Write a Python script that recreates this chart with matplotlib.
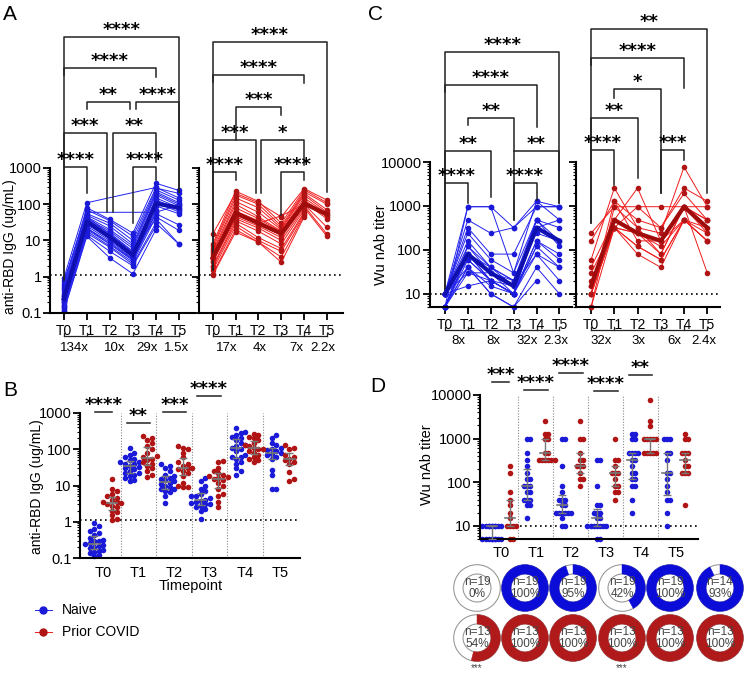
import numpy as np
import matplotlib
matplotlib.use('Agg')
import matplotlib.pyplot as plt
from matplotlib.lines import Line2D
from matplotlib.patches import Circle, Wedge
from matplotlib.transforms import blended_transform_factory
from matplotlib.ticker import LogLocator, NullFormatter

plt.rcParams['font.family'] = ['Liberation Sans', 'DejaVu Sans']

nan = np.nan
timepoints = ['T0', 'T1', 'T2', 'T3', 'T4', 'T5']

# anti-RBD IgG (ug/mL), one row per subject, columns T0..T5
rbd_naive = np.array([
    [0.90, 110, nan, nan, 290, 150],
    [0.75, 60, nan, nan, 60, 95],
    [0.62, 80, 38, 16, 380, 240],
    [0.55, 70, 35, 13, 280, 200],
    [0.48, 55, 30, 10, 250, 130],
    [0.42, 50, 25, 8, 220, 110],
    [0.36, 45, 20, 7, 200, 100],
    [0.31, 40, 18, 6, 180, 90],
    [0.29, 38, 16, 5, 150, 80],
    [0.26, 35, 14, 4.5, 130, 75],
    [0.24, 32, 13, 4.0, 120, 70],
    [0.22, 30, 12, 3.8, 110, 62],
    [0.20, 28, 11, 3.5, 100, nan],
    [0.19, 25, 10, 3.2, 90, 55],
    [0.17, 22, 9, 3.0, 70, nan],
    [0.16, 20, 8, 2.8, 55, 27],
    [0.15, 18, 7, 2.5, 45, 19],
    [0.14, 16, 6.5, 2.2, 30, 8],
    [0.12, 14, 5, 2.0, 25, nan],
    [0.11, 13, 3.3, 1.2, 20, nan],
    [0.23, 22, 8, 3.0, 60, nan],
    [0.30, 45, 15, 5.0, 40, 8],
])
rbd_prior = np.array([
    [15, 200, 110, 45, 270, 130],
    [8, 230, 120, 30, 250, 110],
    [7, 180, 100, 25, 220, 100],
    [6, 150, 80, 22, 200, 70],
    [5, 120, 60, 20, 180, 60],
    [4.5, 100, 45, 18, 150, 55],
    [4, 80, 40, 17, 130, 50],
    [3.5, 65, 35, 16, 120, 45],
    [3.2, 55, 30, 15, 110, 40],
    [3, 50, 28, 14, 100, 23],
    [2.8, 45, 25, 12, 90, 15],
    [2.5, 40, 22, 10, 80, 13],
    [2, 35, 18, 8, 70, nan],
    [1.8, 30, 12, 6, 60, nan],
    [1.5, 25, 10, 5, 55, nan],
    [1.2, 20, 9, 3.5, 50, nan],
    [1.1, 17, 9, 2.5, 45, nan],
    [3.4, 60, 30, 48, 100, nan],
])
rbd_fold_naive = ['134x', '10x', '29x', '1.5x']
rbd_fold_prior = ['17x', '4x', '7x', '2.2x']

# Wu neutralizing antibody titer, one row per subject, columns T0..T5
nab_naive = np.array([
    [10, 960, 960, 320, 960, 960],
    [10, 480, 240, 320, 1280, 480],
    [10, 320, 80, 80, 960, 960],
    [10, 240, 60, 30, 480, 320],
    [10, 160, 40, 20, 480, 160],
    [10, 120, 40, 15, 480, 120],
    [5, 120, 30, 10, 320, 480],
    [5, 80, 40, 20, 240, 160],
    [5, 80, 20, 10, 160, 80],
    [5, 80, 20, 10, 160, 60],
    [10, 60, 20, 10, 120, 40],
    [5, 60, 20, 15, 80, 40],
    [5, 40, 15, 10, 80, 20],
    [5, 40, 10, 5, 40, 10],
    [10, 40, 10, 5, 20, nan],
    [5, 30, 20, 10, 120, nan],
    [10, 30, 30, 20, 320, nan],
    [10, 15, 20, 10, 480, nan],
    [5, 960, 960, 30, 1280, 960],
])
nab_prior = np.array([
    [240, 960, 960, 960, 960, 960],
    [160, 1280, 480, 320, 2560, 1280],
    [60, 2560, 320, 240, 7680, 960],
    [40, 480, 2560, 160, 960, 480],
    [30, 320, 960, 320, 1920, 480],
    [20, 320, 240, 120, 480, 320],
    [15, 480, 240, 80, 960, 240],
    [10, 320, 120, 60, 480, 160],
    [10, 320, 80, 40, 480, 240],
    [10, 1280, 160, 160, 960, 480],
    [10, 320, 240, 160, 480, 160],
    [5, 960, 320, 80, 960, 30],
    [5, 320, 120, 60, 480, 160],
])
nab_fold_naive = ['8x', '8x', '32x', '2.3x']
nab_fold_prior = ['32x', '3x', '6x', '2.4x']

# share of subjects with titer above cut-off
pos_n_naive = [19, 19, 19, 19, 19, 14]
pos_pct_naive = [0, 100, 95, 42, 100, 93]
pos_n_prior = [13, 13, 13, 13, 13, 13]
pos_pct_prior = [54, 100, 100, 100, 100, 100]

BLUE_L, BLUE_M, BLUE_D = '#2222ee', '#1a1ad8', '#1010b0'
RED_L, RED_M, RED_D = '#f01c1c', '#b01414', '#a00c0c'

W, H = 750, 683
fig = plt.figure(figsize=(7.5, 6.83), dpi=100)


def py(y):
    return 1 - y / H


def add_ax(x0, y_top, x1, y_bot):
    return fig.add_axes([x0 / W, py(y_bot), (x1 - x0) / W, (y_bot - y_top) / H])


def fmt(v):
    return '0.1' if v < 1 else str(int(v))


def style_log(ax, ylim, yticks, labels=True):
    ax.set_yscale('log')
    ax.set_ylim(*ylim)
    ax.set_yticks(yticks)
    ax.set_yticklabels([fmt(v) for v in yticks] if labels else [])
    ax.yaxis.set_minor_locator(LogLocator(base=10, subs=np.arange(2, 10)))
    ax.yaxis.set_minor_formatter(NullFormatter())
    for s in ['top', 'right']:
        ax.spines[s].set_visible(False)
    for s in ['left', 'bottom']:
        ax.spines[s].set_linewidth(1.5)
    ax.tick_params(axis='y', which='major', length=5, width=1.3, labelsize=10.5, pad=1)
    ax.tick_params(axis='y', which='minor', length=2.5, width=0.8)


def bracket(ax, x1, x2, yl, b1, b2, stars, fs=13):
    tr = blended_transform_factory(ax.transData, fig.transFigure)
    ax.plot([x1, x1, x2, x2], [py(b1), py(yl), py(yl), py(b2)], color='#222222',
            lw=1.1, transform=tr, clip_on=False)
    ax.text((x1 + x2) / 2, py(yl - 2), stars, transform=tr, ha='center', va='baseline',
            fontsize=fs, fontweight='bold', family='DejaVu Sans')


def lines_panel(ax, data, line_c, mark_c, med_c):
    x = np.arange(6)
    for row in data:
        ok = ~np.isnan(row)
        ax.plot(x[ok], row[ok], color=line_c, lw=0.7, marker='o', ms=3,
                mfc=mark_c, mec=mark_c, zorder=2, clip_on=False)
    ax.plot(x, np.nanmedian(data, axis=0), color=med_c, lw=3, zorder=3)


def fold_axis(ax, y_line, y_text, positions, labels):
    tr = blended_transform_factory(ax.transData, fig.transFigure)
    ax.plot([0, 5], [py(y_line)] * 2, color='#222222', lw=0.9, transform=tr, clip_on=False)
    for t in [0, 1, 3, 4, 5]:
        ax.plot([t, t], [py(y_line), py(y_line - 3)], color='#222222', lw=0.9,
                transform=tr, clip_on=False)
    for p, lab in zip(positions, labels):
        ax.text(p, py(y_text), lab, transform=tr, ha='center', va='center', fontsize=9.5)


def swarm(vals, step, dlog, kmax=3):
    lv = np.log10(vals)
    offs = np.zeros(len(vals))
    placed = []
    cands = [0.0]
    for k in range(1, kmax + 1):
        cands += [k * step, -k * step]
    for i in np.argsort(lv):
        best, best_c = 0.0, 1e9
        for c in cands:
            conf = sum(1 for j in placed if abs(c - offs[j]) < step * 0.9 and abs(lv[i] - lv[j]) < dlog)
            if conf < best_c:
                best, best_c = c, conf
            if conf == 0:
                break
        offs[i] = best
        placed.append(i)
    return offs


def dots_panel(ax, data, xoff, color, step, dlog, kmax):
    for t in range(6):
        v = data[:, t]
        v = v[~np.isnan(v)]
        xs = t + xoff + swarm(v, step, dlog, kmax)
        ax.scatter(xs, v, s=16, color=color, lw=0, zorder=2, clip_on=False)
        q1, med, q3 = np.percentile(v, [25, 50, 75])
        ax.errorbar(t + xoff, med, yerr=[[med - q1], [q3 - med]], color='#777777',
                    lw=1, capsize=3, capthick=1, zorder=4)
        ax.plot([t + xoff - 0.15, t + xoff + 0.15], [med, med], color='#777777', lw=1.2, zorder=4)


# ---------------- Panel A ----------------
axA1 = add_ax(50, 168, 195, 313)
axA2 = add_ax(199, 168, 343, 313)
for ax, data, cols, folds, fpos in [
        (axA1, rbd_naive, (BLUE_L, BLUE_M, BLUE_D), rbd_fold_naive, [0.48, 2.2, 3.6, 4.9]),
        (axA2, rbd_prior, (RED_L, RED_M, RED_D), rbd_fold_prior, [0.6, 2.04, 3.65, 4.8])]:
    style_log(ax, (0.1, 1000), [0.1, 1, 10, 100, 1000], labels=(ax is axA1))
    ax.set_xlim(-0.6, 5.7)
    ax.set_xticks(range(6))
    ax.set_xticklabels(timepoints)
    ax.tick_params(axis='x', length=5, width=1.3, labelsize=10, pad=3)
    ax.axhline(1.1, color='k', lw=1.2, ls=(0, (1, 2)), zorder=1)
    lines_panel(ax, data, *cols)
    fold_axis(ax, 336, 348, fpos, folds)

for b in [(0, 1, 167, 280, 193, '****'), (0, 1.87, 133, 167, 212, '***'),
          (1, 2.87, 102, 109, 109, '**'), (2.13, 4, 133, 212, 162, '**'),
          (3.13, 5, 102, 109, 192, '****'), (3, 4, 167, 223, 180, '****'),
          (0, 4, 68, 75, 77, '****'), (0, 5, 37, 280, 192, '****')]:
    bracket(axA1, *b)
for b in [(0, 1, 172, 270, 180, '****'), (0, 1.91, 140, 172, 193, '***'),
          (2.13, 4, 140, 193, 165, '*'), (1, 3, 107, 140, 115, '***'),
          (3, 4, 172, 215, 180, '****'), (0, 4, 75, 82, 83, '****'),
          (0, 5, 42, 270, 192, '****')]:
    bracket(axA2, *b)
fig.text(10 / W, py(247), 'anti-RBD IgG (ug/mL)', rotation=90, ha='center', va='center', fontsize=10)

# ---------------- Panel C ----------------
axC1 = add_ax(430, 162, 572, 307)
axC2 = add_ax(576, 162, 720, 307)
for ax, data, cols, folds, fpos in [
        (axC1, nab_naive, (BLUE_L, BLUE_M, BLUE_D), nab_fold_naive, [0.57, 2.1, 3.6, 4.83]),
        (axC2, nab_prior, (RED_L, RED_M, RED_D), nab_fold_prior, [0.43, 2.04, 3.6, 4.87])]:
    style_log(ax, (5, 10000), [10, 100, 1000, 10000], labels=(ax is axC1))
    ax.set_xlim(-0.65, 5.55)
    ax.set_xticks(range(6))
    ax.set_xticklabels(timepoints)
    ax.tick_params(axis='x', length=5, width=1.3, labelsize=10, pad=3)
    ax.axhline(10, color='k', lw=1.2, ls=(0, (1, 2)), zorder=1)
    lines_panel(ax, data, *cols)
    fold_axis(ax, 330, 341, fpos, folds)

for b in [(0, 1, 183, 290, 203, '****'), (0, 2, 151, 183, 197, '**'),
          (3, 5, 151, 220, 203, '**'), (3, 4, 183, 220, 200, '****'),
          (1, 3, 118, 125, 151, '**'), (0, 4, 85, 92, 127, '****'),
          (0, 5, 52, 290, 203, '****')]:
    bracket(axC1, *b)
for b in [(0, 1, 150, 223, 185, '****'), (0, 2, 118, 150, 178, '**'),
          (1, 3, 89, 98, 193, '*'), (3, 4, 150, 193, 160, '***'),
          (0, 4, 58, 65, 88, '****'), (0, 5, 29, 223, 193, '**')]:
    bracket(axC2, *b)
fig.text(381 / W, py(245), 'Wu nAb titer', rotation=90, ha='center', va='center', fontsize=10.5)

# ---------------- Panel B ----------------
axB = add_ax(80, 413, 300, 558)
style_log(axB, (0.1, 1000), [0.1, 1, 10, 100, 1000])
axB.set_xlim(-0.65, 5.55)
axB.set_xticks(range(6))
axB.set_xticklabels(timepoints)
axB.tick_params(axis='x', length=0, labelsize=10.5, pad=6)
axB.axhline(1.1, color='k', lw=1.2, ls=(0, (1, 2)), zorder=1)
for s in np.arange(0.5, 5, 1):
    axB.axvline(s, color='#888888', lw=0.8, ls=(0, (1, 1.5)), zorder=0)
dots_panel(axB, rbd_naive, -0.25, BLUE_M, 0.13, 0.12, 2)
dots_panel(axB, rbd_prior, 0.25, RED_M, 0.13, 0.12, 2)
for b in [(-0.23, 0.25, 412, 412, 412, '****'), (0.68, 1.32, 423, 423, 423, '**'),
          (1.7, 2.34, 412, 412, 412, '***'), (2.65, 3.32, 396, 396, 396, '****')]:
    bracket(axB, *b)
fig.text(37 / W, py(487), 'anti-RBD IgG (ug/mL)', rotation=90, ha='center', va='center', fontsize=10)
fig.text(191 / W, py(586), 'Timepoint', ha='center', va='center', fontsize=10.5)

# legend
for yy, cl, cm, lab in [(610, BLUE_L, BLUE_M, 'Naive'), (632, RED_L, RED_M, 'Prior COVID')]:
    fig.add_artist(Line2D([35 / W, 52 / W], [py(yy)] * 2, color=cl, lw=0.7))
    fig.add_artist(Line2D([43 / W], [py(yy)], marker='o', ms=5, color=cm, lw=0))
    fig.text(62 / W, py(yy), lab, va='center', fontsize=10)

# ---------------- Panel D ----------------
axD = add_ax(480, 395, 698, 539)
style_log(axD, (5, 10000), [10, 100, 1000, 10000])
axD.set_xlim(-0.6, 5.63)
axD.set_xticks(range(6))
axD.set_xticklabels(timepoints)
axD.tick_params(axis='x', length=0, labelsize=10.5, pad=5)
axD.axhline(10, color='k', lw=1.2, ls=(0, (1, 2)), zorder=1)
for s in np.arange(0.5, 5, 1):
    axD.axvline(s, color='#888888', lw=0.8, ls=(0, (1, 1.5)), zorder=0)
dots_panel(axD, nab_naive, -0.26, BLUE_M, 0.09, 0.08, 3)
dots_panel(axD, nab_prior, 0.26, RED_M, 0.09, 0.08, 3)
for b in [(-0.26, 0.23, 382, 382, 382, '***'), (0.66, 1.34, 390, 390, 390, '****'),
          (1.66, 2.34, 373, 373, 373, '****'), (2.66, 3.34, 391, 391, 391, '****'),
          (3.66, 4.31, 375, 375, 375, '**')]:
    bracket(axD, *b)
fig.text(427 / W, py(465), 'Wu nAb titer', rotation=90, ha='center', va='center', fontsize=10.5)


# donuts
def donut(cx, cy, pct, n, color):
    d = 48
    a = fig.add_axes([(cx - d / 2) / W, py(cy + d / 2), d / W, d / H])
    a.set_xlim(-1.03, 1.03)
    a.set_ylim(-1.03, 1.03)
    a.set_aspect('equal')
    a.axis('off')
    a.add_patch(Circle((0, 0), 1, fill=False, ec='#9a9a9a', lw=0.8))
    a.add_patch(Circle((0, 0), 0.6, fill=False, ec='#9a9a9a', lw=0.8))
    if pct > 0:
        a.add_patch(Wedge((0, 0), 1, 90 - 3.6 * pct, 90, width=0.4, fc=color, ec=color, lw=0.3))
    a.text(0, 0, f'n={n}\n{pct}%', ha='center', va='center', fontsize=8.5,
           color='#444444', linespacing=0.95)


centers = [477, 525, 573, 622, 670, 720]
for i, cx in enumerate(centers):
    donut(cx, 588, pos_pct_naive[i], pos_n_naive[i], '#0c0cd8')
    donut(cx, 638, pos_pct_prior[i], pos_n_prior[i], '#b01a1a')
for cx in [centers[0], centers[3]]:
    fig.text(cx / W, py(668), '***', ha='center', va='center', fontsize=7, color='#444444')

# panel letters
for lab, x, y in [('A', 3, 15), ('C', 368, 15), ('B', 3, 390), ('D', 370, 387)]:
    fig.text(x / W, py(y), lab, ha='left', va='center', fontsize=15)

fig.savefig('out.png', dpi=100)
